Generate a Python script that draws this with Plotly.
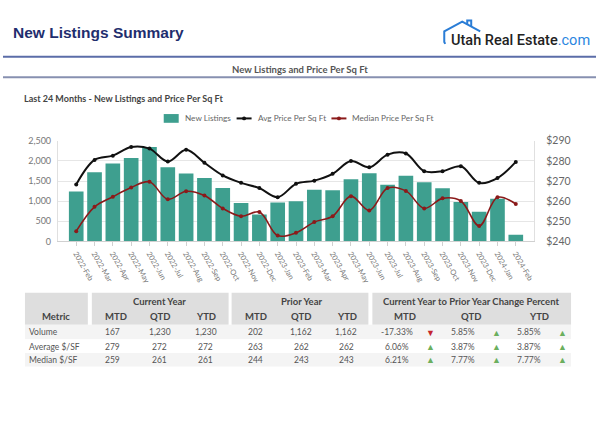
import plotly.graph_objects as go

W, H = 600, 424

# ---------------- data ----------------
months = ["2022-Feb", "2022-Mar", "2022-Apr", "2022-May", "2022-Jun", "2022-Jul", "2022-Aug",
          "2022-Sep", "2022-Oct", "2022-Nov", "2022-Dec", "2023-Jan", "2023-Feb", "2023-Mar",
          "2023-Apr", "2023-May", "2023-Jun", "2023-Jul", "2023-Aug", "2023-Sep", "2023-Oct",
          "2023-Nov", "2023-Dec", "2024-Jan", "2024-Feb"]
new_listings = [1238, 1720, 1937, 2074, 2347, 1841, 1688, 1576, 1326, 957, 667, 965, 997,
                1286, 1270, 1543, 1696, 1407, 1632, 1471, 1318, 981, 740, 1063, 167]
avg_ppsf = [268.3, 280.5, 282.6, 286.9, 286.1, 279.7, 285.5, 279.1, 272.8, 269.1, 266.5, 262.0,
            268.6, 270.2, 273.6, 279.9, 276.8, 283.1, 283.7, 274.9, 274.9, 277.3, 269.1, 271.5, 279.5]
median_ppsf = [245.1, 257.2, 262.2, 266.8, 269.6, 260.9, 264.9, 262.8, 256.4, 252.5, 254.6, 242.9,
               244.3, 249.6, 252.5, 262.5, 255.4, 266.5, 265.1, 256.4, 261.4, 260.1, 247.7, 261.9, 258.6]

left_ticks = [0, 500, 1000, 1500, 2000, 2500]
right_ticks = [240, 250, 260, 270, 280, 290]
right_tick_labels = ["$240", "$250", "$260", "$270", "$280", "$290"]

metrics = ["Volume", "Average $/SF", "Median $/SF"]
cur_mtd = [167, 279, 259]
cur_qtd = [1230, 272, 261]
cur_ytd = [1230, 272, 261]
prior_mtd = [202, 263, 244]
prior_qtd = [1162, 262, 243]
prior_ytd = [1162, 262, 243]
chg_mtd = [-17.33, 6.06, 6.21]
chg_qtd = [5.85, 3.87, 7.77]
chg_ytd = [5.85, 3.87, 7.77]

series_names = ["New Listings", "Avg Price Per Sq Ft", "Median Price Per Sq Ft"]

# ---------------- helpers ----------------
def px(x):
    return x / W

def py(y):
    return 1 - y / H

FONT = "Segoe UI, Lato, Noto Sans, sans-serif"
TEAL = "#3E9F8F"
AVG_C = "#111111"
MED_C = "#8B1A1A"

fig = go.Figure()
fig.add_trace(go.Bar(x=months, y=new_listings, name=series_names[0], marker=dict(color=TEAL, line_width=0),
                     width=0.8, yaxis="y", showlegend=False))
fig.add_trace(go.Scatter(x=months, y=avg_ppsf, name=series_names[1], mode="lines+markers",
                         line=dict(color=AVG_C, width=2, shape="spline", smoothing=1.0),
                         marker=dict(size=4, color=AVG_C), yaxis="y2", showlegend=False))
fig.add_trace(go.Scatter(x=months, y=median_ppsf, name=series_names[2], mode="lines+markers",
                         line=dict(color=MED_C, width=1.6, shape="spline", smoothing=1.0),
                         marker=dict(size=4, color=MED_C), yaxis="y2", showlegend=False))

shapes = []
ann = []

def txt(s, x, y, size=9, color="#555555", anchor="center", bold=False, family=FONT):
    if bold:
        s = f"<b>{s}</b>"
    ann.append(dict(text=s, x=px(x), y=py(y), xref="paper", yref="paper", xanchor=anchor, yanchor="middle",
                    showarrow=False, font=dict(family=family, size=size, color=color)))

# header lines
shapes.append(dict(type="line", xref="paper", yref="paper", x0=px(3), x1=px(597), y0=py(52.3), y1=py(52.3),
                   line=dict(color="#5B6DA8", width=2)))
shapes.append(dict(type="line", xref="paper", yref="paper", x0=px(3), x1=px(597), y0=py(73.3), y1=py(73.3),
                   line=dict(color="#8790B0", width=2)))

# house icon
house = [(446, 39), (445, 37), (445, 26), (463, 16), (481, 26)]
path = "M " + " L ".join(f"{px(a):.5f},{py(b):.5f}" for a, b in house)
shapes.append(dict(type="path", xref="paper", yref="paper", path=path,
                   line=dict(color="#2A7DD6", width=2)))
chim = [(468, 19), (468, 15), (472, 15), (472, 21)]
path2 = "M " + " L ".join(f"{px(a):.5f},{py(b):.5f}" for a, b in chim)
shapes.append(dict(type="path", xref="paper", yref="paper", path=path2,
                   line=dict(color="#2A7DD6", width=2)))

txt("New Listings Summary", 11, 27.5, 15.5, "#1F2E6E", anchor="left", bold=True, family="Liberation Sans, Arial")
ann.append(dict(text="<span style='font-weight:500'>Utah Real Estate</span><span style='color:#2A86E0'>.com</span>",
                x=px(450), y=py(35), xref="paper", yref="paper", xanchor="left", yanchor="middle",
                showarrow=False, font=dict(family="Roboto", size=14.5, color="#222222")))
txt("New Listings and Price Per Sq Ft", 301, 65.7, 9.5, "#555555", bold=True)
txt("Last 24 Months - New Listings and Price Per Sq Ft", 22, 95, 9, "#444444", anchor="left", bold=True)

# ---------------- legend (manual) ----------------
LY = 115.7
shapes.append(dict(type="rect", xref="paper", yref="paper", x0=px(164), x1=px(179), y0=py(LY + 4.5),
                   y1=py(LY - 4.5), fillcolor=TEAL, line_width=0))
txt(series_names[0], 183, LY, 8.2, "#666666", anchor="left")
for (x0, x1, tx, col, name) in [(237, 252, 256, AVG_C, series_names[1]), (332, 347, 351, MED_C, series_names[2])]:
    shapes.append(dict(type="line", xref="paper", yref="paper", x0=px(x0), x1=px(x1), y0=py(LY), y1=py(LY),
                       line=dict(color=col, width=2)))
    cx = (x0 + x1) / 2
    shapes.append(dict(type="circle", xref="paper", yref="paper", x0=px(cx - 2), x1=px(cx + 2),
                       y0=py(LY + 2), y1=py(LY - 2), fillcolor=col, line_width=0))
    txt(name, tx, LY, 8.2, "#666666", anchor="left")

# ---------------- table ----------------
HDR_BG = "#DEDEDE"
blocks = [(25, 88), (92, 229), (232, 369), (373, 572)]
for x0, x1 in blocks:
    shapes.append(dict(type="rect", xref="paper", yref="paper", x0=px(x0), x1=px(x1), y0=py(328), y1=py(295),
                       fillcolor=HDR_BG, line_width=0, layer="below"))
row_bands = [(328, 343), (343, 357), (357, 371)]
row_bg = ["#F4F4F4", "#FFFFFF", "#F4F4F4"]
for (y0, y1), c in zip(row_bands, row_bg):
    shapes.append(dict(type="rect", xref="paper", yref="paper", x0=px(25), x1=px(572), y0=py(y1), y1=py(y0),
                       fillcolor=c, line_width=0, layer="below"))

HC = "#444444"
txt("Current Year", 160, 304, 9.5, HC, bold=True)
txt("Prior Year", 302, 304, 9.5, HC, bold=True)
txt("Current Year to Prior Year Change Percent", 472, 304, 9.5, HC, bold=True)
col_hdr = [("Metric", 56), ("MTD", 116), ("QTD", 160), ("YTD", 206), ("MTD", 256), ("QTD", 302),
           ("YTD", 348), ("MTD", 406), ("QTD", 472), ("YTD", 540)]
for s, x in col_hdr:
    txt(s, x, 319.3, 9.5, HC, bold=True)

row_y = [336, 350.5, 364]
val_cols = [(cur_mtd, 113), (cur_qtd, 160), (cur_ytd, 206), (prior_mtd, 256), (prior_qtd, 302), (prior_ytd, 347)]
chg_cols = [(chg_mtd, 398, 431), (chg_qtd, 464, 497), (chg_ytd, 530, 563)]
for i, y in enumerate(row_y):
    txt(metrics[i], 27, y, 8.5, "#555555", anchor="left")
    for vals, x in val_cols:
        txt(f"{vals[i]:,}", x, y, 8.5, "#555555")
    for vals, x, ax in chg_cols:
        v = vals[i]
        txt(f"{v:.2f}%", x, y, 8.5, "#555555")
        if v < 0:
            txt("▼", ax, y, 9, "#C4262E")
        else:
            txt("▲", ax, y, 9, "#6CAF5E")

fig.update_layout(
    width=W, height=H, margin=dict(l=0, r=0, t=0, b=0),
    paper_bgcolor="white", plot_bgcolor="white",
    font=dict(family=FONT, color="#666666"),
    showlegend=False,
    bargap=0.2,
    xaxis=dict(domain=[px(58), px(535)], type="category", range=[-1, 25], tickangle=60,
               tickfont=dict(size=7.5, color="#777777"), showline=True, linecolor="#D0D0D0",
               ticks="outside", ticklen=4, tickcolor="#D0D0D0", showgrid=False, anchor="y"),
    yaxis=dict(domain=[py(242.3), py(138.7)], range=[0, 2500], tickvals=left_ticks, tickformat=",",
               tickfont=dict(size=9, color="#777777"), showgrid=True, gridcolor="#E6E6E6",
               showline=True, linecolor="#E0E0E0", zeroline=False, ticklabelstandoff=4),
    yaxis2=dict(overlaying="y", side="right", range=[240, 290], tickvals=right_ticks, ticktext=right_tick_labels,
                tickfont=dict(size=10.5, color="#666666"), showgrid=False, showline=True,
                linecolor="#E0E0E0", zeroline=False, anchor="x", ticklabelstandoff=9),
    shapes=shapes, annotations=ann,
)

fig.write_html("out.html", config={"displayModeBar": False},
               post_script="document.body.style.margin='0';")
